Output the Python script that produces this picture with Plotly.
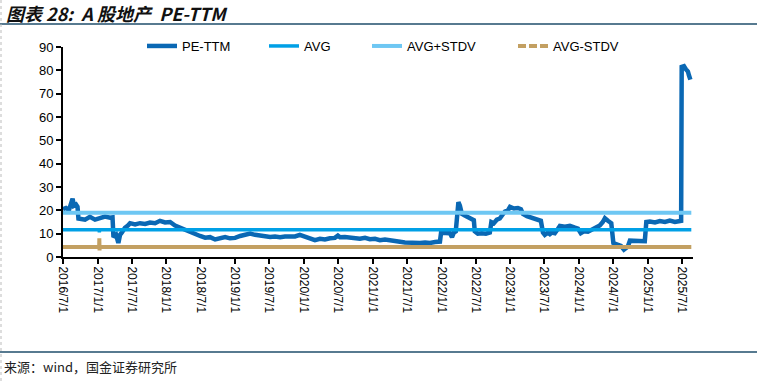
import plotly.graph_objects as go

# ---------------- data ----------------
pe_dates = [
    "2016-07-01", "2016-07-17", "2016-08-02", "2016-08-12", "2016-08-21", "2016-08-28", "2016-09-08",
    "2016-09-16", "2016-09-21", "2016-10-26", "2016-11-21", "2016-12-18", "2017-01-14", "2017-02-09",
    "2017-03-08", "2017-03-21", "2017-03-26", "2017-04-09", "2017-04-21", "2017-04-30", "2017-05-10",
    "2017-05-26", "2017-06-11", "2017-06-22", "2017-07-19", "2017-08-14", "2017-09-10", "2017-10-06",
    "2017-11-02", "2017-11-28", "2017-12-25", "2018-01-21", "2018-02-16", "2018-03-15", "2018-04-10",
    "2018-05-07", "2018-06-02", "2018-06-29", "2018-07-26", "2018-08-21", "2018-09-17", "2018-10-13",
    "2018-11-09", "2018-12-05", "2019-01-01", "2019-01-28", "2019-02-23", "2019-03-22", "2019-04-17",
    "2019-05-14", "2019-06-09", "2019-07-06", "2019-08-01", "2019-08-28", "2019-09-23", "2019-10-19",
    "2019-11-15", "2019-12-11", "2020-01-07", "2020-02-03", "2020-02-29", "2020-03-27", "2020-04-22",
    "2020-05-19", "2020-06-14", "2020-06-30", "2020-07-11", "2020-08-06", "2020-09-02", "2020-09-29",
    "2020-10-25", "2020-11-21", "2020-12-17", "2021-01-13", "2021-02-08", "2021-03-07", "2021-04-03",
    "2021-04-29", "2021-05-26", "2021-06-21", "2021-07-18", "2021-08-13", "2021-09-09", "2021-10-06",
    "2021-11-01", "2021-11-28", "2021-12-24", "2021-12-30", "2022-01-20", "2022-02-15", "2022-02-26",
    "2022-03-08", "2022-03-18", "2022-03-26", "2022-04-01", "2022-04-09", "2022-04-19", "2022-05-05",
    "2022-05-21", "2022-06-11", "2022-06-22", "2022-06-27", "2022-07-13", "2022-08-03", "2022-08-25",
    "2022-09-15", "2022-09-23", "2022-10-06", "2022-10-22", "2022-11-07", "2022-11-18", "2022-12-04",
    "2022-12-20", "2022-12-31", "2023-01-21", "2023-02-11", "2023-02-27", "2023-03-10", "2023-03-31",
    "2023-04-27", "2023-05-23", "2023-06-13", "2023-06-24", "2023-07-04", "2023-07-20", "2023-07-31",
    "2023-08-11", "2023-08-26", "2023-09-11", "2023-09-22", "2023-10-19", "2023-11-14", "2023-12-11",
    "2023-12-27", "2024-01-11", "2024-01-27", "2024-02-18", "2024-03-10", "2024-03-31", "2024-04-21",
    "2024-05-07", "2024-05-18", "2024-06-03", "2024-06-21", "2024-07-02", "2024-07-21", "2024-08-11",
    "2024-08-27", "2024-09-07", "2024-09-17", "2024-09-28", "2024-10-24", "2024-11-20", "2024-12-16",
    "2024-12-24", "2025-01-12", "2025-02-08", "2025-03-06", "2025-04-02", "2025-04-28", "2025-05-25",
    "2025-06-20", "2025-06-27", "2025-06-30", "2025-07-12", "2025-07-22", "2025-08-02", "2025-08-07",
    "2025-08-15",
]
pe_values = [
    20.5, 21.0, 20.2, 22.5, 25.0, 22.0, 22.5,
    21.5, 16.5, 16.0, 17.2, 16.0, 16.5, 17.3,
    16.8, 17.0, 8.5, 9.5, 6.0, 9.5, 10.5,
    12.5, 13.5, 14.5, 14.0, 14.5, 14.2, 14.8,
    14.5, 15.5, 14.8, 15.0, 13.5, 12.5, 11.5,
    10.5, 9.5, 9.0, 8.3, 8.5, 7.5, 8.2,
    8.5, 8.0, 8.2, 9.0, 9.5, 10.0, 9.5,
    9.2, 8.8, 8.6, 8.8, 8.5, 8.8, 9.0,
    8.8, 9.5, 8.8, 8.0, 7.2, 7.8, 7.5,
    8.0, 8.2, 9.2, 8.5, 8.6, 8.2, 8.0,
    7.8, 8.2, 7.6, 7.8, 7.2, 7.5, 7.0,
    6.8, 6.5, 6.2, 6.0, 5.8, 6.0, 6.2,
    6.0, 6.4, 6.6, 10.4, 10.5, 10.2, 8.5,
    10.5, 11.0, 21.5, 23.5, 22.0, 18.5, 17.8,
    17.0, 16.0, 15.8, 11.0, 10.0, 10.2, 10.0,
    10.5, 15.0, 14.5, 16.0, 16.5, 18.0, 19.5,
    20.0, 21.5, 20.8, 21.0, 20.5, 18.5, 17.5,
    16.8, 16.2, 15.5, 10.5, 9.5, 10.5, 9.8,
    10.5, 10.2, 12.0, 13.3, 13.0, 13.4, 12.6,
    12.2, 10.2, 11.0, 10.8, 11.8, 12.5, 13.5,
    15.0, 16.6, 15.5, 14.5, 6.0, 5.5, 4.8,
    3.2, 3.8, 4.5, 7.0, 6.8, 7.0, 6.8,
    15.0, 15.2, 14.8, 15.4, 15.0, 15.6, 15.0,
    15.2, 15.5, 81.5, 81.8, 80.5, 79.5, 78.0,
    76.0,
]

band_dates = ["2016-07-01", "2017-01-09", "2017-01-10", "2017-01-11", "2017-01-12", "2025-08-20"]
avg_values = [11.7, 11.7, 10.6, 11.7, 11.7, 11.7]
avg_plus_values = [19.0, 19.0, 19.0, 19.0, 19.0, 19.0]
avg_minus_values = [4.3, 4.3, 8.0, 2.8, 4.3, 4.3]

tick_dates = [
    "2016-07-01", "2017-01-01", "2017-07-01", "2018-01-01", "2018-07-01", "2019-01-01",
    "2019-07-01", "2020-01-01", "2020-07-01", "2021-01-01", "2021-07-01", "2022-01-01",
    "2022-07-01", "2023-01-01", "2023-07-01", "2024-01-01", "2024-07-01", "2025-01-01",
    "2025-07-01",
]
tick_labels = [
    "2016/7/1", "2017/1/1", "2017/7/1", "2018/1/1", "2018/7/1", "2019/1/1",
    "2019/7/1", "2020/1/1", "2020/7/1", "2021/1/1", "2021/7/1", "2022/1/1",
    "2022/7/1", "2023/1/1", "2023/7/1", "2024/1/1", "2024/7/1", "2025/1/1",
    "2025/7/1",
]

C_PE = "#0A68B4"
C_AVG = "#00A0E6"
C_PLUS = "#6EC7F3"
C_MINUS = "#C3A062"

# ---------------- figure ----------------
W, H = 757, 382
L, R, T, B = 63, 64, 47, 125
PW, PH = W - L - R, H - T - B


def px(x):
    return (x - L) / PW


def py(y):
    return (H - B - y) / PH


fig = go.Figure()

fig.add_trace(go.Scatter(x=pe_dates, y=pe_values, mode="lines", name="PE-TTM",
                         line=dict(color=C_PE, width=4.5), legend="legend"))
fig.add_trace(go.Scatter(x=band_dates, y=avg_values, mode="lines", name="AVG",
                         line=dict(color=C_AVG, width=3.5), legend="legend2"))
fig.add_trace(go.Scatter(x=band_dates, y=avg_plus_values, mode="lines", name="AVG+STDV",
                         line=dict(color=C_PLUS, width=4), legend="legend3"))
fig.add_trace(go.Scatter(x=band_dates, y=avg_minus_values, mode="lines", name="AVG-STDV",
                         line=dict(color=C_MINUS, width=4), showlegend=False))
# legend entry with dashed sample
fig.add_trace(go.Scatter(x=[None], y=[None], mode="lines", name="AVG-STDV",
                         line=dict(color=C_MINUS, width=4, dash="8px,3px"), legend="legend4"))

legend_font = dict(family="Arial, Liberation Sans", size=13, color="#000")
ly = py(46)


def leg(xpix):
    return dict(x=px(xpix), y=ly, xanchor="left", yanchor="middle", orientation="h",
                font=legend_font, bgcolor="rgba(0,0,0,0)", borderwidth=0)


fig.update_layout(
    width=W, height=H,
    margin=dict(l=L, r=R, t=T, b=B, autoexpand=False),
    paper_bgcolor="white", plot_bgcolor="white",
    legend=leg(142), legend2=leg(264), legend3=leg(367), legend4=leg(513),
    xaxis=dict(
        type="date", range=["2016-07-01", "2025-08-29"],
        tickvals=tick_dates, ticktext=tick_labels, tickangle=90,
        showgrid=False, zeroline=False,
        showline=True, linecolor="#000", linewidth=2,
        ticks="outside", ticklen=5, tickcolor="#000", tickwidth=2,
        tickfont=dict(family="Arial, Liberation Sans", size=12, color="#000"),
    ),
    yaxis=dict(
        range=[0, 90], tickvals=list(range(0, 91, 10)),
        showgrid=False, zeroline=False,
        showline=True, linecolor="#000", linewidth=2,
        ticks="outside", ticklen=5, tickcolor="#000", tickwidth=2,
        tickfont=dict(family="Arial, Liberation Sans", size=13, color="#000"),
    ),
    shapes=[
        dict(type="line", xref="paper", yref="paper", x0=px(0), x1=px(757), y0=py(24), y1=py(24),
             line=dict(color="#1F4E6B", width=1.5)),
        dict(type="line", xref="paper", yref="paper", x0=px(0), x1=px(757), y0=py(352), y1=py(352),
             line=dict(color="#1F4E6B", width=1.5)),
        dict(type="line", xref="paper", yref="paper", x0=px(1), x1=px(1), y0=py(0), y1=py(382),
             line=dict(color="#BBBBBB", width=1, dash="dot")),
    ],
    annotations=[
        dict(text="图表 28:  A 股地产  PE-TTM", xref="paper", yref="paper", x=px(4), y=py(13),
             xanchor="left", yanchor="middle", showarrow=False,
             font=dict(family="Noto Sans CJK SC", size=18, color="#111", weight="bold", style="italic")),
        dict(text="来源：wind，国金证券研究所", xref="paper", yref="paper", x=px(2), y=py(366),
             xanchor="left", yanchor="middle", showarrow=False,
             font=dict(family="Noto Sans CJK SC", size=13, color="#222")),
    ],
)

fig.write_html("out.html", config={"displayModeBar": False},
               post_script="document.body.style.margin='0';document.body.style.overflow='hidden';")
